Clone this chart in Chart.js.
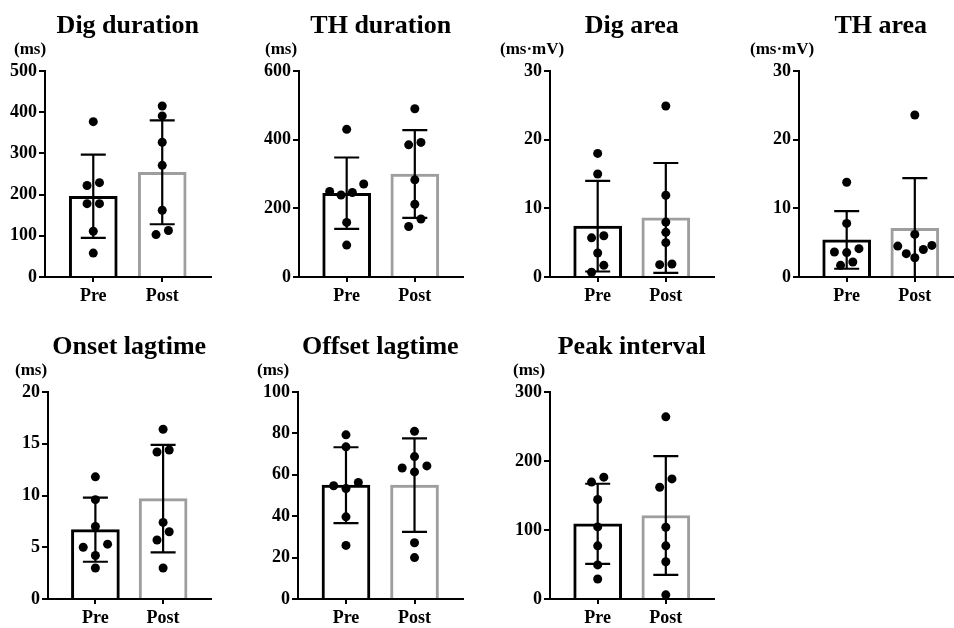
<!DOCTYPE html>
<html>
<head>
<meta charset="utf-8">
<script src="https://cdn.jsdelivr.net/npm/chart.js@4.4.0/dist/chart.umd.min.js"></script>
<style>
html, body { margin: 0; padding: 0; background: #fff; }
#wrap { position: relative; width: 954px; height: 628px; overflow: hidden; }
#wrap canvas { position: absolute; }
</style>
</head>
<body>
<div id="wrap"></div>
<script>
// values
const titles = ['Dig duration', 'TH duration', 'Dig area', 'TH area', 'Onset lagtime', 'Offset lagtime', 'Peak interval'];
const units = ['(ms)', '(ms)', '(ms·mV)', '(ms·mV)', '(ms)', '(ms)', '(ms)'];
const categories = ['Pre', 'Post'];
const yMax = [500, 600, 30, 30, 20, 100, 300];
const yStep = [100, 200, 10, 10, 5, 20, 100];

const preMean = [196, 244, 7.4, 5.4, 6.7, 55, 109];
const preSD = [101, 104, 6.6, 4.2, 3.1, 18.3, 58];
const postMean = [254, 300, 8.6, 7.1, 9.7, 55, 121];
const postSD = [126, 128, 8.0, 7.3, 5.2, 22.6, 86];

const preDots = [
    [377, 229, 222, 178, 178, 111, 58],
    [430, 271, 249, 246, 239, 159, 93],
    [18.0, 15.0, 6.0, 5.7, 3.5, 1.7, 0.7],
    [13.8, 7.8, 4.13, 3.64, 3.55, 2.18, 1.7],
    [11.8, 9.6, 7.0, 5.3, 5.0, 4.2, 3.0],
    [79.3, 73.5, 56.3, 54.7, 53.4, 39.7, 25.9],
    [176.6, 169.4, 144.2, 104.5, 77, 49.4, 29],
];
const postDots = [
    [415, 391, 327, 271, 162, 113, 103],
    [490, 392, 385, 283, 212, 169, 147],
    [24.9, 11.9, 8.0, 6.5, 5.0, 1.9, 1.8],
    [23.6, 6.2, 4.6, 4.5, 4.0, 3.4, 2.8],
    [16.4, 14.4, 14.2, 7.4, 6.5, 5.7, 3.0],
    [81, 68.8, 64.3, 63.3, 61.4, 27.2, 20],
    [264, 174, 162, 104, 77, 54, 6],
];

// page layout of each plot area (px)
const boxes = [
    {left: 45, right: 215, top: 71, bottom: 277, unitDx: -31},
    {left: 299, right: 467, top: 71, bottom: 277, unitDx: -34},
    {left: 550, right: 718, top: 71, bottom: 277, unitDx: -50},
    {left: 799, right: 967, top: 71, bottom: 277, unitDx: -49},
    {left: 48, right: 215, top: 392, bottom: 599, unitDx: -33},
    {left: 298, right: 467, top: 392, bottom: 599, unitDx: -41},
    {left: 550, right: 718, top: 392, bottom: 599, unitDx: -37},
];

const family = "'Liberation Serif', 'Times New Roman', serif";
const tickFont = {family: family, size: 18, weight: 'bold'};

// spread dots that sit at nearly the same height, like a scatter dot plot
const slotOrder = (n) => {
    const out = [];
    if (n % 2) {
        out.push(0);
        for (let k = 1; out.length < n; k++) { out.push(-k, k); }
    } else {
        for (let k = 0.5; out.length < n; k++) { out.push(-k, k); }
    }
    return out.slice(0, n);
};

const swarm = (values, center, range) => {
    const thr = range * 9 / 206;
    const sorted = values.slice().sort((a, b) => a - b);
    const groups = [];
    let g = [sorted[0]];
    for (let k = 1; k < sorted.length; k++) {
        if (sorted[k] - sorted[k - 1] < thr) g.push(sorted[k]);
        else { groups.push(g); g = [sorted[k]]; }
    }
    groups.push(g);
    const pts = [];
    groups.forEach((grp) => {
        const n = grp.length;
        const step = n > 1 ? Math.min(0.18, 0.5 / (n - 1)) : 0;
        const slots = slotOrder(n);
        grp.forEach((v, k) => pts.push({x: center + slots[k] * step, y: v}));
    });
    return pts;
};

const unitLabel = {
    id: 'unitLabel',
    afterDraw(chart, args, opts) {
        const {ctx, chartArea} = chart;
        ctx.save();
        ctx.font = 'bold 17px ' + family;
        ctx.fillStyle = '#000';
        ctx.textAlign = 'left';
        ctx.textBaseline = 'middle';
        ctx.fillText(opts.text, chartArea.left + opts.dx, chartArea.top - 21);
        ctx.restore();
    }
};

const errorBars = {
    id: 'errorBars',
    afterDatasetDraw(chart, args) {
        const ds = chart.data.datasets[args.index];
        if (!ds.sd) return;
        const ctx = chart.ctx;
        const xs = chart.scales.x, ys = chart.scales.y;
        ctx.save();
        ctx.strokeStyle = '#000';
        ctx.lineWidth = 2.2;
        ds.data.forEach((d, i) => {
            const x = xs.getPixelForValue(d.x);
            const hi = ys.getPixelForValue(d.y + ds.sd[i]);
            const lowVal = d.y - ds.sd[i];
            const lo = ys.getPixelForValue(Math.max(0, lowVal));
            ctx.beginPath();
            ctx.moveTo(x, hi); ctx.lineTo(x, lo);
            ctx.moveTo(x - 12.5, hi); ctx.lineTo(x + 12.5, hi);
            if (lowVal > 0) { ctx.moveTo(x - 12.5, lo); ctx.lineTo(x + 12.5, lo); }
            ctx.stroke();
        });
        ctx.restore();
    }
};

const axisStyle = (tickLength) => ({
    grid: {display: true, offset: false, drawOnChartArea: false, drawTicks: true, tickLength: tickLength,
           tickColor: '#000', tickWidth: 2, color: '#000', lineWidth: 2},
    border: {display: true, color: '#000', width: 2},
});

const wrap = document.getElementById('wrap');

const renderPanel = (p) => {
    const box = boxes[p];
    const axisW = 54, xAxisH = 34, topH = 71;
    const canvas = document.createElement('canvas');
    canvas.width = axisW + box.right - box.left;
    canvas.height = topH + box.bottom - box.top + xAxisH;
    canvas.style.left = (box.left - axisW) + 'px';
    canvas.style.top = (box.top - topH) + 'px';
    wrap.appendChild(canvas);

    new Chart(canvas.getContext('2d'), {
        type: 'bar',
        data: {
            datasets: [{
                type: 'bar',
                data: [{x: 0, y: preMean[p]}, {x: 1, y: postMean[p]}],
                sd: [preSD[p], postSD[p]],
                backgroundColor: '#fff',
                borderColor: ['#000', '#9e9e9e'],
                borderWidth: 3,
                barThickness: 48,
                order: 2,
            }, {
                type: 'scatter',
                data: swarm(preDots[p], 0, yMax[p]).concat(swarm(postDots[p], 1, yMax[p])),
                pointRadius: 4.5,
                pointBackgroundColor: '#000',
                pointBorderWidth: 0,
                order: 1,
            }],
        },
        options: {
            responsive: false,
            animation: false,
            devicePixelRatio: 1,
            layout: {padding: 0},
            scales: {
                x: Object.assign({
                    type: 'linear',
                    min: -0.7,
                    max: 1.7,
                    offset: false,
                    afterBuildTicks: (s) => { s.ticks = categories.map((c, i) => ({value: i})); },
                    afterFit: (s) => { s.height = xAxisH; },
                    ticks: {callback: (v) => categories[v], font: tickFont, color: '#000', padding: 4,
                            maxRotation: 0, autoSkip: false},
                }, axisStyle(5)),
                y: Object.assign({
                    type: 'linear',
                    min: 0,
                    max: yMax[p],
                    afterFit: (s) => { s.width = axisW; },
                    ticks: {stepSize: yStep[p], font: tickFont, color: '#000', padding: 2},
                }, axisStyle(6)),
            },
            plugins: {
                legend: {display: false},
                tooltip: {enabled: false},
                title: {
                    display: true,
                    text: titles[p],
                    fullSize: false,
                    color: '#000',
                    font: {family: family, size: 26, weight: 'bold'},
                    padding: {top: 11, bottom: 28.8},
                },
                unitLabel: {text: units[p], dx: box.unitDx},
            },
        },
        plugins: [unitLabel, errorBars],
    });
};

window.addEventListener('load', () => {
    for (let p = 0; p < titles.length; p++) renderPanel(p);
});
</script>
</body>
</html>
